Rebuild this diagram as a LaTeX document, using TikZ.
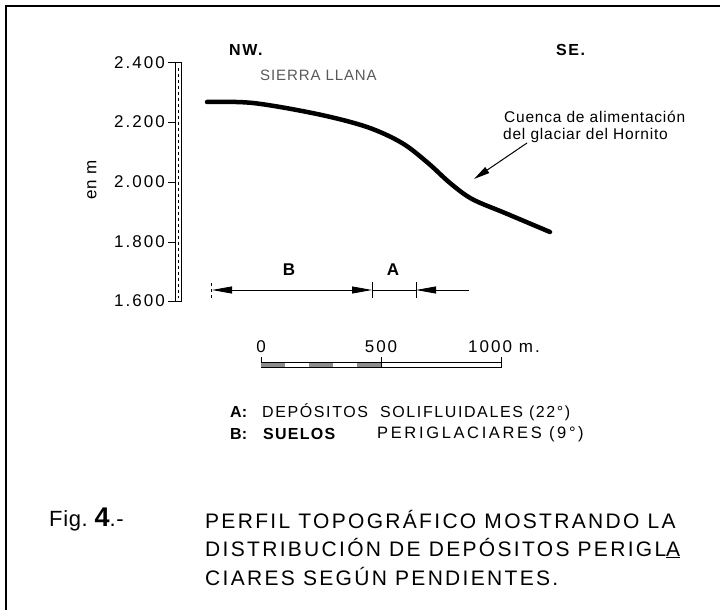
\documentclass[tikz,border=0pt]{standalone}
\usepackage{fontspec}
\setmainfont{Liberation Sans}
\usetikzlibrary{arrows.meta}
\tikzset{
  txt/.style={inner sep=0pt, font=\fontsize{17}{17}\selectfont\addfontfeature{LetterSpace=12}},
  key/.style={inner sep=0pt, font=\fontsize{16}{16}\selectfont\addfontfeature{LetterSpace=10}},
  big/.style={inner sep=0pt, font=\fontsize{21}{21}\selectfont\addfontfeature{LetterSpace=11}},
  dimarrow/.style={-{Triangle[length=20pt,width=7pt]}},
}
\begin{document}
\begin{tikzpicture}[x=1pt,y=-1pt]
\useasboundingbox (0,0) rectangle (720,610);
% frame
\draw[line width=2pt] (6,612) -- (6,6) -- (722,6);
% height axis
\draw[line width=1pt] (175,63) rectangle (181,301);
\draw[dashed, line width=0.6pt] (178,68) -- (178,298);
\draw[line width=1pt] (168,63) -- (175,63);
\draw[line width=1pt] (168,122) -- (175,122);
\draw[line width=1pt] (168,182) -- (175,182);
\draw[line width=1pt] (168,242) -- (175,242);
\draw[line width=1pt] (168,301) -- (175,301);
\node[txt, anchor=east] (h2400) at (165,63) {2.400};
\node[txt, anchor=east] (h2200) at (165,122) {2.200};
\node[txt, anchor=east] (h2000) at (165,182) {2.000};
\node[txt, anchor=east] (h1800) at (165,242) {1.800};
\node[txt, anchor=east] (h1600) at (165,301) {1.600};
\node[key, rotate=90, font=\fontsize{17}{17}\selectfont\addfontfeature{LetterSpace=6}] (unit) at (92,180) {en m};
% orientation
\node[anchor=west, inner sep=0pt, font=\fontsize{16}{16}\selectfont\bfseries\addfontfeature{LetterSpace=10}] (nw) at (229,50) {NW.};
\node[anchor=west, inner sep=0pt, font=\fontsize{16}{16}\selectfont\bfseries\addfontfeature{LetterSpace=10}] (se) at (556,50) {SE.};
\node[anchor=west, inner sep=0pt, text=black!65, font=\fontsize{15}{15}\selectfont\addfontfeature{LetterSpace=6}] (sierra) at (260,75) {SIERRA LLANA};
% profile
\draw[line width=4.5pt, line cap=round] plot[smooth, tension=0.55] coordinates {(207,102) (253,103) (317,114) (367,127) (402,143) (428,163) (450,183) (472,199) (505,213) (550,232)};
\node[anchor=west, inner sep=0pt, font=\fontsize{15.5}{15.5}\selectfont\addfontfeature{LetterSpace=5}] (cuenca) at (504,117) {Cuenca de alimentación};
\node[anchor=west, inner sep=0pt, font=\fontsize{15.5}{15.5}\selectfont\addfontfeature{LetterSpace=5}] (glaciar) at (503,135) {del glaciar del Hornito};
\coordinate (arrowtail) at (527,143);
\coordinate (arrowtip) at (474,179);
\draw[line width=1pt, -{Triangle[length=16pt,width=7pt]}] (arrowtail) -- (arrowtip);
% slope sections
\node[inner sep=0pt, font=\fontsize{17}{17}\selectfont\bfseries] (labB) at (289,270) {B};
\node[inner sep=0pt, font=\fontsize{17}{17}\selectfont\bfseries] (labA) at (393,270) {A};
\coordinate (dimstart) at (212,290);
\coordinate (dimmid) at (372,290);
\coordinate (dimend) at (416,290);
\coordinate (dimtail) at (469,290);
\draw[dashed, line width=0.8pt] (211,283) -- (211,298);
\draw[line width=0.8pt] (372,282) -- (372,298);
\draw[line width=0.8pt] (416,282) -- (416,298);
\draw[line width=0.8pt, dimarrow] (292,290) -- (dimstart);
\draw[line width=0.8pt, dimarrow] (292,290) -- (dimmid);
\draw[line width=0.8pt] (dimmid) -- (dimend);
\draw[line width=0.8pt, dimarrow] (dimtail) -- (dimend);
% scale bar
\node[txt] (s0) at (261,347) {0};
\node[txt] (s500) at (381,347) {500};
\node[txt, anchor=west] (s1000) at (468,347) {1000 m.};
\draw[line width=0.8pt] (261,357) -- (261,368);
\draw[line width=0.8pt] (381,357) -- (381,368);
\draw[line width=0.8pt] (501,357) -- (501,368);
\fill[black!45] (261,362) rectangle (285,367);
\fill[black!45] (309,362) rectangle (333,367);
\fill[black!45] (357,362) rectangle (381,367);
\draw[line width=0.8pt] (261,362) -- (501,362);
\draw[line width=0.8pt] (261,367) -- (501,367);
% legend
\node[key, anchor=west, font=\fontsize{16}{16}\selectfont\bfseries] (keyA) at (230,412) {A:};
\node[key, anchor=west] (descA) at (262,412) {DEPÓSITOS\ \ SOLIFLUIDALES (22°)};
\node[key, anchor=west, font=\fontsize{16}{16}\selectfont\bfseries] (keyB) at (230,434) {B:};
\node[key, anchor=west, font=\fontsize{16}{16}\selectfont\bfseries\addfontfeature{LetterSpace=8}] (descB) at (263,434) {SUELOS};
\node[key, anchor=west, font=\fontsize{16.5}{16.5}\selectfont\addfontfeature{LetterSpace=16}] (descB2) at (377,434) {PERIGLACIARES (9°)};
% caption
\node[big, anchor=west, font=\fontsize{22}{22}\selectfont\addfontfeature{LetterSpace=3}] (fig) at (49,519) {Fig.\ {\bfseries\fontsize{27}{27}\selectfont 4}.-};
\node[big, anchor=west] (cap1) at (205,519) {PERFIL TOPOGRÁFICO MOSTRANDO LA};
\node[big, anchor=west] (cap2) at (205,548) {DISTRIBUCIÓN DE DEPÓSITOS PERIGL\underline{A}};
\node[big, anchor=west] (cap3) at (205,576) {CIARES SEGÚN PENDIENTES.};
\end{tikzpicture}
\end{document}
